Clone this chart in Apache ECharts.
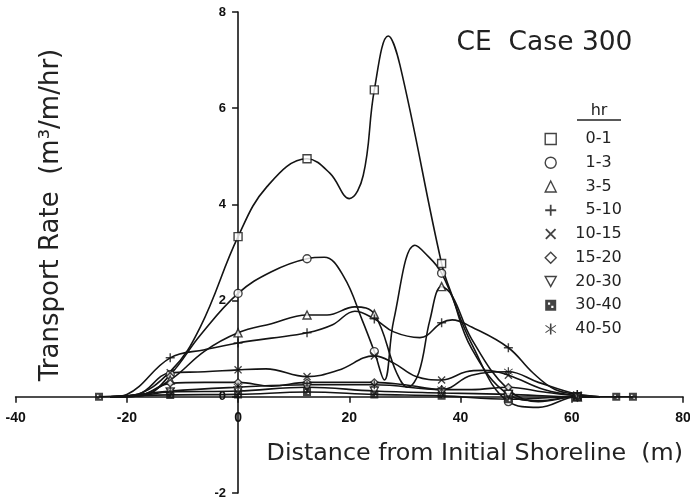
<!DOCTYPE html>
<html><head><meta charset="utf-8">
<script src="https://cdn.jsdelivr.net/npm/echarts@6/dist/echarts.min.js"></script>
<style>html,body{margin:0;padding:0;background:#fff}#c{width:690px;height:498px}</style>
</head><body><div id="c"></div>
<script>
// ---- data ----
const periods = ['0-1','1-3','3-5','5-10','10-15','15-20','20-30','30-40','40-50'];
const stations = [-25, -12.2, 0, 12.4, 24.5, 36.6, 48.6, 61, 68, 71];
const xTicks = [-40, -20, 0, 20, 40, 60, 80];
const yTicks = [-2, 0, 2, 4, 6, 8];

const rate_0_1 = [[-23,0],[-19,0.03],[-12,0.55],[-6.8,1.45],[0,3.33],[5.2,4.37],[12.4,4.95],[16.5,4.65],[20,4.12],[22.5,4.6],[24.5,6.38],[27,7.5],[29.1,6.9],[36.6,2.77],[38.5,2.1],[42,1.0],[48.6,0.05],[54,-0.08],[61,0],[65,0]];
const rate_1_3 = [[-23,0],[-17,0.03],[-12.2,0.46],[-6.8,1.28],[0,2.15],[6,2.6],[12.4,2.87],[15.5,2.9],[19,2.5],[22.3,1.6],[24.5,0.94],[26.3,0.35],[28,1.6],[31.8,3.15],[33.5,3.0],[36.6,2.57],[42,1.1],[48.6,-0.1],[54,-0.22],[61,0],[65,0]];
const rate_3_5 = [[-23,0],[-18,0.03],[-12.2,0.35],[-6,0.95],[0,1.33],[6,1.52],[12.4,1.7],[16,1.7],[21,1.87],[24.5,1.72],[28.5,0.5],[30.5,0.2],[32.5,0.5],[34.5,1.6],[36.6,2.29],[38.5,2.1],[42,1.2],[48.6,0.15],[54,-0.1],[61,0],[65,0]];
const rate_5_10 = [[-23,0],[-20,0.05],[-12.2,0.81],[-6,0.98],[0,1.12],[6,1.22],[12.4,1.33],[17,1.5],[21,1.78],[24.5,1.62],[28,1.35],[32.7,1.23],[36.6,1.54],[38.5,1.6],[42,1.45],[48.6,1.02],[53,0.5],[57,0.15],[61,0.05],[65,0]];
const rate_10_15 = [[-23,0],[-18,0.05],[-12.2,0.5],[-6,0.52],[0,0.56],[5,0.58],[12.4,0.42],[18,0.55],[24.5,0.85],[28,0.7],[32,0.42],[36.6,0.35],[41,0.52],[44,0.55],[48.6,0.45],[55,0.15],[61,0.02],[65,0]];
const rate_15_20 = [[-23,0],[-18,0.02],[-12.2,0.28],[-6,0.3],[0,0.3],[6,0.22],[12.4,0.3],[18,0.3],[24.5,0.3],[30,0.25],[36.6,0.15],[42,0.15],[48.6,0.2],[55,0.1],[61,0.02],[65,0]];
const rate_20_30 = [[-23,0],[-18,0.02],[-12.2,0.1],[0,0.12],[12.4,0.2],[24.5,0.12],[36.6,0.08],[48.6,0.05],[61,0],[65,0]];
const rate_30_40 = [[-25,0],[-12.2,0.04],[0,0.05],[12.4,0.1],[24.5,0.05],[36.6,0.02],[48.6,-0.05],[61,0],[68,0],[71,0]];
const rate_40_50 = [[-23,0],[-20,0.02],[-12.2,0.12],[0,0.2],[12.4,0.25],[24.5,0.25],[36.6,0.15],[42,0.45],[48.6,0.52],[54,0.3],[61,0.05],[65,0]];

const allRates = [rate_0_1, rate_1_3, rate_3_5, rate_5_10, rate_10_15, rate_15_20, rate_20_30, rate_30_40, rate_40_50];

// ---- layout ----
const GRID = {left: 15.6, right: 7, top: 12, bottom: 5};
const W = 690, H = 498;
const plotW = W - GRID.left - GRID.right, plotH = H - GRID.top - GRID.bottom;
// axes cross at the origin: shift each axis line from the grid edge to the zero line
const xAxisOffset = -plotH * (0 - yTicks[0]) / (yTicks[yTicks.length-1] - yTicks[0]);
const yAxisOffset = -plotW * (0 - xTicks[0]) / (xTicks[xTicks.length-1] - xTicks[0]);

// ---- styles ----
const INK = '#141414';
const P_PLUS = 'path://M4.2,0H5.8V4.2H10V5.8H5.8V10H4.2V5.8H0V4.2H4.2Z';
const P_X = 'path://M0,1.2L1.2,0L10,8.8L8.8,10Z M8.8,0L10,1.2L1.2,10L0,8.8Z';
const P_DOWN = 'path://M0,0H10L5,9Z';
const P_DOTSQ = 'path://M0,0H10V10H0Z M2.5,2.5V4.5H4.5V2.5Z M5.5,5.5V7.5H7.5V5.5Z';
const P_STAR = 'path://M4.3,0H5.7V10H4.3Z M0,2.1L0.5,1.3L10,7.9L9.5,8.7Z M9.5,1.3L10,2.1L0.5,8.7L0,7.9Z';
const symbols = ['rect','circle','triangle',P_PLUS,P_X,'diamond',P_DOWN,P_DOTSQ,P_STAR];
const hollow  = [true,true,true,false,false,true,true,false,false];
const symSize = [8,8,8,9,8,7,8,8,9];

const series = [];
periods.forEach((p, i) => {
  series.push({
    name: p, type: 'scatter', z: 5,
    symbol: symbols[i], symbolSize: symSize[i],
    itemStyle: hollow[i] ? {color:'#fff', borderColor: INK, borderWidth: 1.4} : {color: INK},
    data: allRates[i].filter(d => stations.includes(d[0]))
  });
});
periods.forEach((p, i) => {
  series.push({
    name: p, type: 'line', z: 3, smooth: 0.4,
    showSymbol: false, symbol: 'none',
    lineStyle: {color: INK, width: 1.6},
    itemStyle: {color: INK},
    data: allRates[i]
  });
});

const chart = echarts.init(document.getElementById('c'), null, {renderer: 'canvas'});
chart.setOption({
  animation: false,
  backgroundColor: '#ffffff',
  grid: {left: GRID.left, right: GRID.right, top: GRID.top, bottom: GRID.bottom, containLabel: false, outerBoundsMode: 'none'},
  xAxis: {
    type: 'value', position: 'bottom', offset: xAxisOffset,
    min: xTicks[0], max: xTicks[xTicks.length-1], interval: 20,
    axisLine: {onZero: false, lineStyle: {color: INK, width: 1.6}},
    axisTick: {show: true, length: 6, lineStyle: {color: INK, width: 1.5}},
    axisLabel: {margin: 14, color: '#111', fontSize: 14, fontWeight: 'bold', fontFamily: 'Liberation Sans'},
    splitLine: {show: false}
  },
  yAxis: {
    type: 'value', position: 'left', offset: yAxisOffset,
    min: yTicks[0], max: yTicks[yTicks.length-1], interval: 2,
    axisLine: {onZero: false, lineStyle: {color: INK, width: 1.6}},
    axisTick: {show: true, length: 6, lineStyle: {color: INK, width: 1.5}},
    axisLabel: {margin: 12, color: '#111', fontSize: 13, fontWeight: 'bold', fontFamily: 'Liberation Sans'},
    splitLine: {show: false}
  },
  legend: {
    orient: 'vertical', left: 544.5, top: 131, padding: 0, itemWidth: 11, itemHeight: 11, itemGap: 7.75,
    selectedMode: false,
    data: periods.map((p, i) => ({
      name: p, icon: symbols[i],
      itemStyle: hollow[i] ? {color:'#fff', borderColor: INK, borderWidth: 1.4} : {color: INK, borderWidth: 0}
    })),
    formatter: n => { const k = n.indexOf('-'); return '{' + (k > 1 ? 'a2' : 'a1') + '|' + n.slice(0,k) + '}{b|' + n.slice(k) + '}'; },
    textStyle: {
      color: '#222', fontSize: 16, fontFamily: 'DejaVu Sans',
      rich: {
        a1: {padding: [0,0,0,24.3], fontSize: 16, fontFamily: 'DejaVu Sans', lineHeight: 14, color: '#222'},
        a2: {padding: [0,0,0,14.1], fontSize: 16, fontFamily: 'DejaVu Sans', lineHeight: 14, color: '#222'},
        b: {fontSize: 16, fontFamily: 'DejaVu Sans', lineHeight: 14, color: '#222'}
      }
    }
  },
  graphic: [
    {type: 'text', x: 544.5, y: 43, style: {text: 'CE  Case 300', fontSize: 26.5, fontFamily: 'DejaVu Sans', fill: '#222', align: 'center', verticalAlign: 'middle'}},
    {type: 'text', x: 683, y: 453.5, style: {text: 'Distance from Initial Shoreline  (m)', fontSize: 23.8, fontFamily: 'DejaVu Sans', fill: '#222', align: 'right', verticalAlign: 'middle'}},
    {type: 'text', x: 51, y: 215, rotation: Math.PI/2, style: {text: 'Transport Rate  (m³/m/hr)', fontSize: 26, fontFamily: 'DejaVu Sans', fill: '#222', align: 'center', verticalAlign: 'middle'}},
    {type: 'text', x: 599, y: 111, style: {text: 'hr', fontSize: 16, fontFamily: 'DejaVu Sans', fill: '#222', align: 'center', verticalAlign: 'middle'}},
    {type: 'line', shape: {x1: 577, y1: 120, x2: 621, y2: 120}, style: {stroke: '#222', lineWidth: 1.3}}
  ],
  series: series
});
</script></body></html>
